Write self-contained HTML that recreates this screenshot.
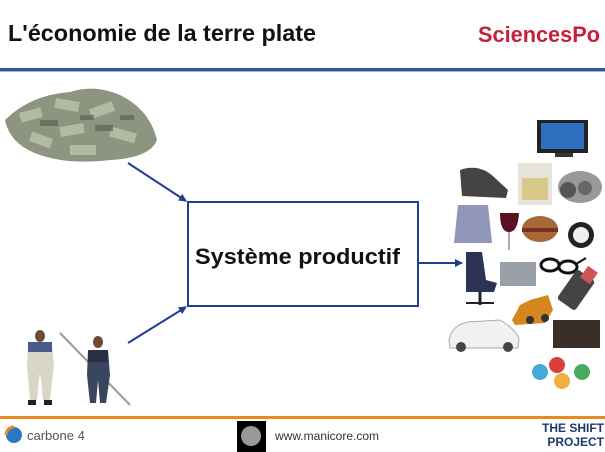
<!DOCTYPE html>
<html><head><meta charset="utf-8"><style>
html,body{margin:0;padding:0;background:#fff;}
svg{display:block;}
text{font-family:"Liberation Sans",Arial,sans-serif;}
</style></head><body>
<svg width="605" height="452" viewBox="0 0 605 452" xmlns="http://www.w3.org/2000/svg">
<rect width="605" height="452" fill="#fff"/>
<text x="8" y="41" font-size="23" font-weight="bold" fill="#111" textLength="308" lengthAdjust="spacingAndGlyphs">L'économie de la terre plate</text>
<text x="478" y="42" font-size="22" font-weight="bold" fill="#c8203a" textLength="122" lengthAdjust="spacingAndGlyphs">SciencesPo</text>
<rect x="0" y="68" width="605" height="3" fill="#2b5aa3"/>
<rect x="0" y="71" width="605" height="1" fill="#9fb4d6"/>

<!-- money pile -->
<path d="M5,120 Q30,95 70,92 Q95,84 120,95 Q150,110 157,140 Q150,158 110,160 Q70,165 40,155 Q10,145 5,120 Z" fill="#8d9580"/>
<g fill="#b8bfa5" opacity="0.9">
<rect x="20" y="110" width="22" height="10" transform="rotate(-15 31 115)"/>
<rect x="55" y="100" width="24" height="10" transform="rotate(10 67 105)"/>
<rect x="90" y="105" width="24" height="10" transform="rotate(-20 102 110)"/>
<rect x="110" y="130" width="26" height="10" transform="rotate(15 123 135)"/>
<rect x="60" y="125" width="24" height="10" transform="rotate(-10 72 130)"/>
<rect x="30" y="135" width="22" height="10" transform="rotate(20 41 140)"/>
<rect x="70" y="145" width="26" height="10"/>
</g>
<g fill="#5d6452" opacity="0.7">
<rect x="40" y="120" width="18" height="6"/><rect x="95" y="125" width="18" height="6"/><rect x="80" y="115" width="14" height="5"/><rect x="120" y="115" width="14" height="5"/>
</g>

<!-- workers -->
<line x1="60" y1="333" x2="130" y2="405" stroke="#999" stroke-width="2"/>
<ellipse cx="40" cy="336" rx="5" ry="6" fill="#6b4a35"/>
<path d="M28,345 L52,345 L54,365 L50,400 L43,400 L40,372 L37,400 L30,400 L27,365 Z" fill="#d9d6c8"/>
<rect x="28" y="342" width="24" height="10" fill="#4a5a8a"/>
<rect x="28" y="400" width="8" height="5" fill="#222"/><rect x="44" y="400" width="8" height="5" fill="#222"/>
<ellipse cx="98" cy="342" rx="5" ry="6" fill="#6b4a35"/>
<path d="M88,350 L108,350 L110,375 L106,403 L100,403 L98,380 L96,403 L90,403 L87,375 Z" fill="#3a4560"/>
<rect x="88" y="350" width="20" height="12" fill="#2a3040"/>

<!-- arrows -->
<defs><marker id="a" markerWidth="8" markerHeight="8" refX="7" refY="4" orient="auto" markerUnits="userSpaceOnUse"><path d="M0,0 L8,4 L0,8 Z" fill="#1f3f8f"/></marker></defs>
<line x1="128" y1="163" x2="186" y2="201" stroke="#1f3f8f" stroke-width="2" marker-end="url(#a)"/>
<line x1="128" y1="343" x2="186" y2="307" stroke="#1f3f8f" stroke-width="2" marker-end="url(#a)"/>
<line x1="419" y1="263" x2="462" y2="263" stroke="#1f3f8f" stroke-width="2" marker-end="url(#a)"/>
<rect x="188" y="202" width="230" height="104" fill="#fff" stroke="#1f3f8f" stroke-width="2"/>
<text x="195" y="264" font-size="22" font-weight="bold" fill="#111" textLength="205" lengthAdjust="spacingAndGlyphs">Système productif</text>

<!-- products -->
<rect x="537" y="120" width="51" height="33" fill="#222"/><rect x="541" y="123" width="43" height="26" fill="#2f6fc0"/><rect x="555" y="153" width="18" height="4" fill="#333"/>
<path d="M460,170 Q480,163 495,178 L508,190 L506,198 L462,196 Z" fill="#444"/>
<rect x="518" y="163" width="34" height="42" fill="#e6e4da"/><rect x="522" y="178" width="26" height="22" fill="#d8c98a"/>
<ellipse cx="580" cy="187" rx="22" ry="16" fill="#999"/><circle cx="568" cy="190" r="8" fill="#555"/><circle cx="585" cy="188" r="7" fill="#666"/>
<path d="M458,205 L488,205 L492,243 L454,243 Z" fill="#9097b8"/>
<path d="M500,213 L519,213 Q518,232 509,232 Q500,232 500,213 Z" fill="#5a1020"/><line x1="509" y1="232" x2="509" y2="250" stroke="#aaa" stroke-width="2"/>
<ellipse cx="540" cy="229" rx="18" ry="13" fill="#a8683a"/><rect x="522" y="228" width="36" height="4" fill="#7a3020"/>
<circle cx="581" cy="235" r="13" fill="#222"/><circle cx="581" cy="235" r="8" fill="#eee"/>
<path d="M466,252 L482,252 L486,280 L497,283 L494,292 L466,292 Z" fill="#2d3354"/><line x1="480" y1="292" x2="480" y2="305" stroke="#222" stroke-width="3"/><line x1="466" y1="303" x2="494" y2="303" stroke="#222" stroke-width="2"/>
<rect x="500" y="262" width="36" height="24" fill="#9aa0a8"/>
<ellipse cx="550" cy="265" rx="9" ry="6" fill="none" stroke="#111" stroke-width="3"/><ellipse cx="568" cy="267" rx="9" ry="6" fill="none" stroke="#111" stroke-width="3"/><line x1="576" y1="264" x2="586" y2="258" stroke="#111" stroke-width="2"/>
<rect x="565" y="272" width="22" height="36" rx="3" fill="#444" transform="rotate(35 576 290)"/><rect x="583" y="268" width="12" height="14" fill="#c55" transform="rotate(35 589 275)"/>
<path d="M512,320 L520,305 L530,300 L548,295 L553,310 L545,323 L515,325 Z" fill="#d6861e"/><circle cx="530" cy="320" r="4" fill="#333"/><circle cx="545" cy="318" r="4" fill="#333"/>
<path d="M449,340 Q452,325 468,322 L500,320 Q514,328 519,338 L518,348 L450,348 Z" fill="#f1f1f1" stroke="#aaa"/><circle cx="461" cy="347" r="5" fill="#444"/><circle cx="508" cy="347" r="5" fill="#444"/>
<rect x="553" y="320" width="47" height="28" fill="#3a2e28"/>
<circle cx="540" cy="372" r="8" fill="#48a8d8"/><circle cx="557" cy="365" r="8" fill="#d84040"/><circle cx="582" cy="372" r="8" fill="#4caa60"/><circle cx="562" cy="381" r="8" fill="#f0b040"/>

<!-- footer -->
<rect x="0" y="416" width="605" height="3" fill="#e88a1e"/>
<circle cx="14" cy="435" r="8" fill="#2a7ac0"/><path d="M6,435 A8,8 0 0 1 14,427" stroke="#e88a1e" stroke-width="3" fill="none"/>
<text x="27" y="440" font-size="13" fill="#555">carbone 4</text>
<rect x="237" y="421" width="29" height="31" fill="#000"/><circle cx="251" cy="436" r="10" fill="#999"/>
<text x="275" y="440" font-size="12" fill="#333">www.manicore.com</text>
<text x="604" y="432" font-size="12" font-weight="bold" fill="#1c3a70" text-anchor="end">THE SHIFT</text>
<text x="604" y="446" font-size="12" font-weight="bold" fill="#1c3a70" text-anchor="end">PROJECT</text>
</svg>
</body></html>
